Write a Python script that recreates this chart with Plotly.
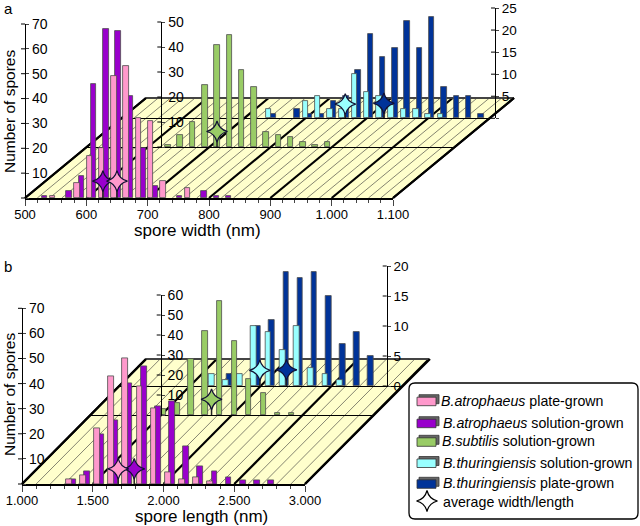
import plotly.graph_objects as go

# ---- data: panel a (spore width, nm) ----
a_pink_x = [545, 585, 605, 625, 645, 665, 685, 705, 725, 765]
a_pink_y = [1, 6, 17, 20, 49, 53, 32, 31, 7, 4]
a_purple_x = [532, 572, 592, 612, 632, 652, 672, 692, 712, 752, 792, 812, 832]
a_purple_y = [1, 3, 9, 46, 68, 67, 41, 20, 5, 1, 3, 1, 1]
a_green_x = [632, 652, 672, 692, 712, 732, 752, 772, 792, 812, 832, 852, 872, 892]
a_green_y = [1, 5, 10, 25, 41, 45, 31, 24, 6, 5, 4, 2, 1, 2]
a_cyan_x = [739, 799, 819, 839, 859, 879, 899, 919, 939, 959, 979, 999, 1019]
a_cyan_y = [2, 4, 5, 2, 2, 10, 6, 5, 3, 2, 2, 1, 1]
a_blue_x = [746, 785, 805, 825, 845, 865, 885, 905, 925, 945, 965, 985, 1005, 1025, 1045, 1065, 1085]
a_blue_y = [1, 2, 1, 1, 4, 5, 11, 19, 14, 16, 22, 16, 23, 7, 5, 5, 1]
a_avg = {"pink": (650, 6.8), "purple": (627, 6.8), "green": (712, 6.2), "cyan": (864, 3.2), "blue": (927, 3.4)}

# ---- data: panel b (spore length, nm) ----
b_pink_x = [1330, 1430, 1530, 1630, 1730, 1830, 1930, 2030, 2130, 2230, 2330]
b_pink_y = [2, 3.5, 22, 43, 50, 39, 30, 4.5, 2, 2.5, 1]
b_purple_x = [1360, 1460, 1560, 1660, 1760, 1860, 1960, 2060, 2160, 2260, 2360, 2460, 2560, 2660, 2760]
b_purple_y = [2, 5, 20, 25.5, 40, 47, 31, 33, 15, 7, 5, 2.5, 1.5, 1.5, 1.5]
b_green_x = [1515, 1615, 1715, 1815, 1915, 2020, 2120, 2225, 2325, 2425]
b_green_y = [3, 6, 28, 42, 57, 37, 18, 11, 1, 1]
b_cyan_x = [1657, 1758, 1857, 1955, 2056, 2158, 2257, 2358, 2459, 2563]
b_cyan_y = [2, 1, 2, 10, 9, 6, 10, 3, 2, 1]
b_blue_x = [1780, 1985, 2082, 2183, 2282, 2381, 2483, 2581, 2680, 2783]
b_blue_y = [2, 10, 11, 19, 18, 19, 15, 7, 9, 5]
b_avg = {"pink": (1680, 6), "purple": (1793, 6), "green": (1859, 7.8), "cyan": (1998, 2.6), "blue": (2186, 2.7)}

a_xticks = [500, 600, 700, 800, 900, 1000, 1100]
a_xlabels = ["500", "600", "700", "800", "900", "1.000", "1.100"]
b_xticks = [1000, 1500, 2000, 2500, 3000]
b_xlabels = ["1.000", "1.500", "2.000", "2.500", "3.000"]
legend_rows = [
    ("<i>B.atrophaeus</i> plate-grown", "pink"),
    ("<i>B.atrophaeus</i> solution-grown", "purple"),
    ("<i>B.subtilis</i> solution-grown", "green"),
    ("<i>B.thuringiensis</i> solution-grown", "cyan"),
    ("<i>B.thuringiensis</i> plate-grown", "blue"),
]

COL = {"pink": "#FF99CC", "purple": "#9900CC", "green": "#99CC66", "cyan": "#99FFFF", "blue": "#003399"}
FONT = "Liberation Sans, Arial, sans-serif"
W, H = 640, 526
fx = lambda p: p / W
fy = lambda p: 1 - p / H
STAR = 15

fig = go.Figure()
layout = dict(
    width=W, height=H, margin=dict(l=0, r=0, t=0, b=0, autoexpand=False), autosize=False,
    paper_bgcolor="white", plot_bgcolor="rgba(0,0,0,0)", showlegend=False,
    font=dict(family=FONT, color="black", size=13), bargap=0, barmode="overlay",
)
shapes, annots = [], []


def line(x0, y0, x1, y1, w=1, c="black"):
    shapes.append(dict(type="line", xref="paper", yref="paper", x0=fx(x0), y0=fy(y0), x1=fx(x1), y1=fy(y1),
                       line=dict(color=c, width=w), layer="below"))


def floor(xl, xr, yf, xb, yb, xmin, xmax, minor, major):
    d = xb - xl
    path = f"M{fx(xl)},{fy(yf)} L{fx(xr)},{fy(yf)} L{fx(xr + d)},{fy(yb)} L{fx(xb)},{fy(yb)} Z"
    shapes.append(dict(type="path", path=path, xref="paper", yref="paper", fillcolor="#FFFFCC",
                       line=dict(width=0), layer="below"))
    v = xmin
    while v <= xmax:
        p = xl + (v - xmin) / (xmax - xmin) * (xr - xl)
        thick = (v - xmin) % major == 0
        line(p, yf, p + d, yb, 2.2 if thick else 0.6, "black" if thick else "#333333")
        v += minor
    line(xb, yb, xr + d, yb, 2.2, "#444444")


def axes(n, xdom, ydom, xr, yr, yticks, ylabels, ypos, front=False, xticks=None, xlabels=None, minor=None, fs=14):
    s = n if n > 1 else ""
    xa = dict(domain=[fx(xdom[0]), fx(xdom[1])], range=xr, showgrid=False, zeroline=False,
              showline=True, linecolor="black", linewidth=2 if front else 1.4, anchor=f"y{s}", fixedrange=True)
    if front:
        xa.update(tickmode="array", tickvals=xticks, ticktext=xlabels, ticks="outside", ticklen=6, tickwidth=1.2,
                  ticklabelstandoff=-3, tickfont=dict(size=13),
                  minor=dict(dtick=minor, ticks="outside", ticklen=3, tickwidth=1, tick0=xr[0]))
    else:
        xa.update(showticklabels=False, ticks="")
    ya = dict(domain=[fy(ydom[0]), fy(ydom[1])], range=yr, showgrid=False, zeroline=False, showline=True,
              linecolor="black", linewidth=1.2, tickmode="array", tickvals=yticks, ticktext=ylabels,
              ticks="outside", ticklen=3, tickwidth=1, tickfont=dict(size=fs), fixedrange=True,
              side="right", anchor="free", position=fx(ypos))
    layout[f"xaxis{s}"] = xa
    layout[f"yaxis{s}"] = ya
    # left half of the crossing tick marks
    for t in yticks:
        py = ydom[0] + (ydom[1] - ydom[0]) * (t - yr[0]) / (yr[1] - yr[0])
        line(ypos - 4, py, ypos, py, 1)


def bars(n, x, y, col, width):
    s = "" if n == 1 else str(n)
    fig.add_bar(x=x, y=y, width=width, marker=dict(color=COL[col], line=dict(color="#4d4d4d", width=0.8)),
                xaxis=f"x{s}", yaxis=f"y{s}", name=col)


def star(n, pt, col, size=STAR):
    s = "" if n == 1 else str(n)
    fig.add_scatter(x=[pt[0]], y=[pt[1]], mode="markers", cliponaxis=False,
                    marker=dict(symbol="star-diamond", size=size, color=COL[col], line=dict(color="#111133", width=1.2)),
                    error_y=dict(type="data", symmetric=False, array=[0], arrayminus=[pt[1]], color="#222222",
                                 thickness=1.5, width=0),
                    xaxis=f"x{s}", yaxis=f"y{s}", name=col + " average")


# ---- floors ----
floor(25, 393, 198, 146, 98, 500, 1100, 20, 100)
floor(22, 305, 484, 146, 359, 1000, 3000, 100, 500)
line(25, 198, 146, 98, 2.2)
line(393, 198, 514, 98, 2.2)
line(22, 484, 146, 359, 2.2)
line(305, 484, 430, 359, 2.2)

# ---- panel a axes (back to front) ----
axes(1, (122, 490), (118.3, 8), [500, 1100], [0, 25], [0, 5, 10, 15, 20, 25], ["", "5", "10", "15", "20", "25"], 495, fs=13.5)
axes(2, (87, 455), (147, 22), [500, 1100], [0, 50], [0, 10, 20, 30, 40, 50], ["", "10", "20", "30", "40", "50"], 161.3)
axes(3, (25, 393), (198, 24), [500, 1100], [0, 70], [0, 10, 20, 30, 40, 50, 60, 70],
     ["", "10", "20", "30", "40", "50", "60", "70"], 25, front=True, xticks=a_xticks, xlabels=a_xlabels, minor=20)
# ---- panel b axes (back to front) ----
axes(4, (118.6, 401.6), (386, 266), [1000, 3000], [0, 20], [0, 5, 10, 15, 20], ["0", "5", "10", "15", "20"], 386.7, fs=13.5)
axes(5, (90, 373), (415, 295), [1000, 3000], [0, 60], [0, 10, 20, 30, 40, 50, 60], ["", "10", "20", "30", "40", "50", "60"], 160.7)
axes(6, (22, 305), (484, 308.3), [1000, 3000], [0, 70], [0, 10, 20, 30, 40, 50, 60, 70],
     ["", "10", "20", "30", "40", "50", "60", "70"], 22, front=True, xticks=b_xticks, xlabels=b_xlabels, minor=100)

# page-wide hidden axes, used only for the legend key
layout["xaxis7"] = dict(domain=[0, 1], range=[0, W], visible=False, fixedrange=True, anchor="y7")
layout["yaxis7"] = dict(domain=[0, 1], range=[H, 0], visible=False, fixedrange=True, anchor="x7")

# ---- marks ----
bars(1, a_blue_x, a_blue_y, "blue", 9)
bars(1, a_cyan_x, a_cyan_y, "cyan", 9)
star(1, a_avg["cyan"], "cyan")
star(1, a_avg["blue"], "blue")
bars(2, a_green_x, a_green_y, "green", 9)
star(2, a_avg["green"], "green")
bars(3, a_purple_x, a_purple_y, "purple", 9)
bars(3, a_pink_x, a_pink_y, "pink", 9)
star(3, a_avg["purple"], "purple")
star(3, a_avg["pink"], "pink")

bars(4, b_blue_x, b_blue_y, "blue", 40)
bars(4, b_cyan_x, b_cyan_y, "cyan", 40)
star(4, b_avg["cyan"], "cyan")
star(4, b_avg["blue"], "blue")
bars(5, b_green_x, b_green_y, "green", 40)
star(5, b_avg["green"], "green")
bars(6, b_purple_x, b_purple_y, "purple", 40)
bars(6, b_pink_x, b_pink_y, "pink", 40)
star(6, b_avg["purple"], "purple")
star(6, b_avg["pink"], "pink")

# ---- text ----
def text(x, y, s, size=14, rot=0, anchor="center"):
    annots.append(dict(x=fx(x), y=fy(y), xref="paper", yref="paper", text=s, showarrow=False, textangle=rot,
                       xanchor=anchor, yanchor="middle", font=dict(size=size, family=FONT, color="black")))


text(8, 9, "a", 15)
text(8, 266, "b", 15)
text(197, 230, "spore width (nm)", 17)
text(201, 516, "spore length (nm)", 17)
text(9, 112, "Number of spores", 15.5, -90)
text(9, 395, "Number of spores", 15.5, -90)

# ---- legend box ----
x0, x1, y0, y1, r = 409, 638, 383, 519, 6
path = (f"M{fx(x0 + r)},{fy(y0)} L{fx(x1 - r)},{fy(y0)} Q{fx(x1)},{fy(y0)} {fx(x1)},{fy(y0 + r)} "
        f"L{fx(x1)},{fy(y1 - r)} Q{fx(x1)},{fy(y1)} {fx(x1 - r)},{fy(y1)} L{fx(x0 + r)},{fy(y1)} "
        f"Q{fx(x0)},{fy(y1)} {fx(x0)},{fy(y1 - r)} L{fx(x0)},{fy(y0 + r)} Q{fx(x0)},{fy(y0)} {fx(x0 + r)},{fy(y0)} Z")
shapes.append(dict(type="path", path=path, xref="paper", yref="paper", fillcolor="white",
                   line=dict(color="black", width=1.3), layer="below"))
row_y = [400.7, 422.7, 441.3, 462.5, 483.3]
row_x = [438.7, 441, 440.3, 441.3, 441.3]
for (label, col), yy, xx in zip(legend_rows, row_y, row_x):
    shapes.append(dict(type="rect", xref="paper", yref="paper", x0=fx(419), x1=fx(439), y0=fy(yy - 6), y1=fy(yy + 3),
                       fillcolor="#666666", line=dict(color="#333333", width=0.8), layer="below"))
    shapes.append(dict(type="rect", xref="paper", yref="paper", x0=fx(417), x1=fx(436), y0=fy(yy - 3.5), y1=fy(yy + 5),
                       fillcolor=COL[col], line=dict(color="#333333", width=0.8), layer="below"))
    text(xx, yy, label, 14.2, anchor="left")
text(441.3, 502.3, "average width/length", 14.2, anchor="left")
fig.add_scatter(x=[427], y=[501], mode="markers",
                marker=dict(symbol="star-diamond", size=STAR, color="white", line=dict(color="black", width=1.2)),
                error_y=dict(type="data", symmetric=False, array=[0], arrayminus=[10], color="black", thickness=1.2, width=0),
                xaxis="x7", yaxis="y7", name="average width/length")

layout["shapes"] = shapes
layout["annotations"] = annots
fig.update_layout(**layout)
fig.write_html("out.html", config={"displayModeBar": False}, post_script="document.body.style.margin='0';")
